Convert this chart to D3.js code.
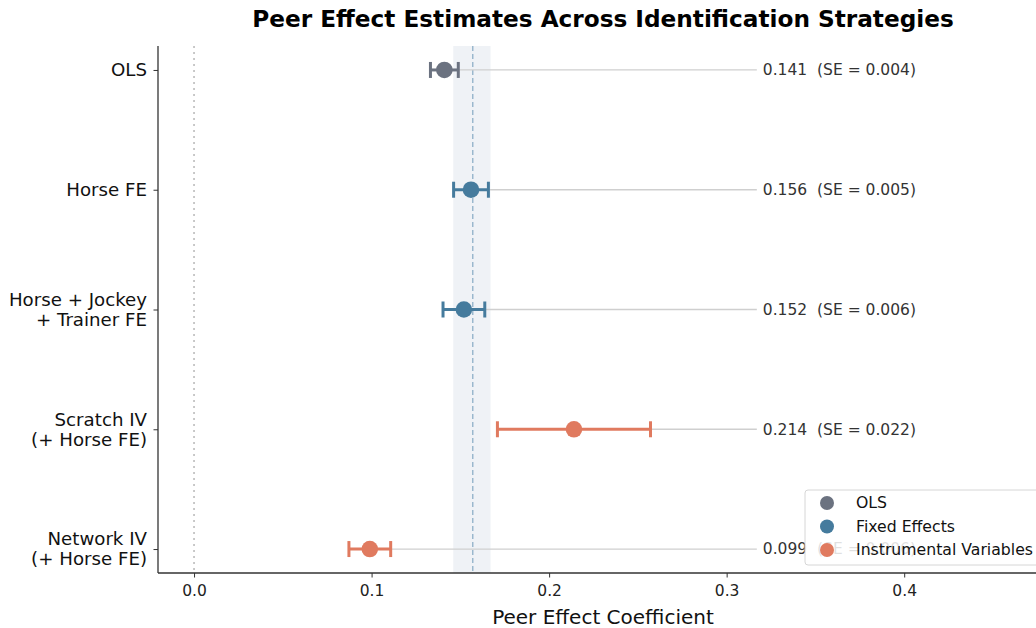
<!DOCTYPE html>
<html>
<head>
<meta charset="utf-8">
<script src="https://cdn.jsdelivr.net/npm/d3@7"></script>
<style>
  body { margin: 0; background: #fff; }
  svg { font-family: "DejaVu Sans", sans-serif; display: block; }
</style>
</head>
<body>
<div id="container"></div>
<script>
// estimates
const labels = ['OLS', 'Horse FE', 'Horse + Jockey\n+ Trainer FE', 'Scratch IV\n(+ Horse FE)', 'Network IV\n(+ Horse FE)'];
const estimates = [0.141, 0.156, 0.152, 0.214, 0.099];
const stdErrors = [0.004, 0.005, 0.006, 0.022, 0.006];
const groups = ['OLS', 'Fixed Effects', 'Fixed Effects', 'Instrumental Variables', 'Instrumental Variables'];
const groupNames = ['OLS', 'Fixed Effects', 'Instrumental Variables'];
const groupColors = ['#6b7280', '#457b9d', '#e07a5f'];
const xTicks = [0.0, 0.1, 0.2, 0.3, 0.4];
const refLine = 0.157;
const refBand = [0.146, 0.167];

const width = 1036, height = 628;
const margin = { left: 158, top: 46, bottom: 55 };
const plotBottom = height - margin.bottom;

const svg = d3.select('#container').append('svg')
  .attr('width', width).attr('height', height);

const x = d3.scaleLinear().domain([-0.0203, 0.481]).range([margin.left, 1048]);
const y = d3.scaleLinear().domain([-0.2, 4.2]).range([margin.top, plotBottom]);
const color = d3.scaleOrdinal().domain(groupNames).range(groupColors);

const rows = labels.map((l, i) => ({
  label: l, est: estimates[i], se: stdErrors[i], group: groups[i], i: i
}));

// reference band + dashed line
svg.append('rect')
  .attr('x', x(refBand[0])).attr('y', margin.top)
  .attr('width', x(refBand[1]) - x(refBand[0]))
  .attr('height', plotBottom - margin.top)
  .attr('fill', '#e9eef3').attr('opacity', 0.75);

svg.append('line')
  .attr('x1', x(refLine)).attr('x2', x(refLine))
  .attr('y1', margin.top).attr('y2', plotBottom)
  .attr('stroke', '#8fb0c8').attr('stroke-width', 1.3)
  .attr('stroke-dasharray', '5,3');

// zero line
svg.append('line')
  .attr('x1', x(0)).attr('x2', x(0))
  .attr('y1', margin.top).attr('y2', plotBottom)
  .attr('stroke', '#c4c4c4').attr('stroke-width', 1.8)
  .attr('stroke-dasharray', '2,4');

// connector lines to annotation
const annotX = 0.317;
svg.selectAll('.conn').data(rows).enter().append('line')
  .attr('class', 'conn')
  .attr('x1', d => x(d.est)).attr('x2', x(annotX))
  .attr('y1', d => y(d.i)).attr('y2', d => y(d.i))
  .attr('stroke', '#cfcfcf').attr('stroke-width', 1.3);

// error bars
const eb = svg.selectAll('.eb').data(rows).enter().append('g').attr('class', 'eb')
  .attr('stroke', d => color(d.group)).attr('stroke-width', 3);
eb.append('line')
  .attr('x1', d => x(d.est - 1.96 * d.se)).attr('x2', d => x(d.est + 1.96 * d.se))
  .attr('y1', d => y(d.i)).attr('y2', d => y(d.i));
eb.append('line')
  .attr('x1', d => x(d.est - 1.96 * d.se)).attr('x2', d => x(d.est - 1.96 * d.se))
  .attr('y1', d => y(d.i) - 8).attr('y2', d => y(d.i) + 8);
eb.append('line')
  .attr('x1', d => x(d.est + 1.96 * d.se)).attr('x2', d => x(d.est + 1.96 * d.se))
  .attr('y1', d => y(d.i) - 8).attr('y2', d => y(d.i) + 8);
svg.selectAll('.pt').data(rows).enter().append('circle')
  .attr('cx', d => x(d.est)).attr('cy', d => y(d.i)).attr('r', 8.3)
  .attr('fill', d => color(d.group));

// annotations
svg.selectAll('.annot').data(rows).enter().append('text')
  .attr('x', x(annotX) + 6).attr('y', d => y(d.i)).attr('dy', '0.35em')
  .attr('font-size', 15.5).attr('fill', '#333')
  .style('white-space', 'pre')
  .text(d => d.est.toFixed(3) + '  (SE = ' + d.se.toFixed(3) + ')');

// x axis
const xAxis = svg.append('g').attr('transform', `translate(0,${plotBottom})`)
  .call(d3.axisBottom(x).tickValues(xTicks).tickFormat(d3.format('.1f')).tickSize(4.5).tickPadding(7));
xAxis.select('.domain').attr('stroke', '#333').attr('stroke-width', 1.3).attr('d', `M${margin.left},0H1048`);
xAxis.selectAll('.tick line').attr('stroke', '#333');
xAxis.selectAll('text').attr('font-size', 15.5).attr('fill', '#222').attr('font-family', 'DejaVu Sans');

// y axis
const yAxis = svg.append('g').attr('transform', `translate(${margin.left},0)`)
  .call(d3.axisLeft(y).tickValues(d3.range(labels.length)).tickFormat('').tickSize(4.5));
yAxis.select('.domain').attr('stroke', '#333').attr('stroke-width', 1.3).attr('d', `M0,${margin.top}V${plotBottom}`);
yAxis.selectAll('.tick line').attr('stroke', '#333');

rows.forEach(d => {
  const lines = d.label.split('\n');
  const t = svg.append('text')
    .attr('x', margin.left - 11)
    .attr('text-anchor', 'end').attr('font-size', 18.2).attr('fill', '#111');
  const lh = 20;
  const y0 = y(d.i) - (lines.length - 1) * lh / 2;
  lines.forEach((ln, k) => {
    t.append('tspan').attr('x', margin.left - 11).attr('y', y0 + k * lh).attr('dy', '0.35em').text(ln);
  });
});

// x label
svg.append('text')
  .attr('x', 603).attr('y', 624)
  .attr('text-anchor', 'middle').attr('font-size', 20).attr('fill', '#111')
  .text('Peer Effect Coefficient');

// title
svg.append('text')
  .attr('x', 603).attr('y', 27)
  .attr('text-anchor', 'middle').attr('font-size', 23.2).attr('font-weight', 'bold').attr('fill', '#000')
  .text('Peer Effect Estimates Across Identification Strategies');

// legend
const leg = svg.append('g').attr('transform', 'translate(805,490)');
leg.append('rect').attr('width', 250).attr('height', 75).attr('rx', 3)
  .attr('fill', 'white').attr('fill-opacity', 0.85).attr('stroke', '#d6d6d6');
groupNames.forEach((g, k) => {
  leg.append('circle').attr('cx', 22).attr('cy', 13 + k * 23.5).attr('r', 7).attr('fill', groupColors[k]);
  leg.append('text').attr('x', 51).attr('y', 13 + k * 23.5).attr('dy', '0.35em')
    .attr('font-size', 15.7).attr('fill', '#111').text(g);
});
</script>
</body>
</html>
